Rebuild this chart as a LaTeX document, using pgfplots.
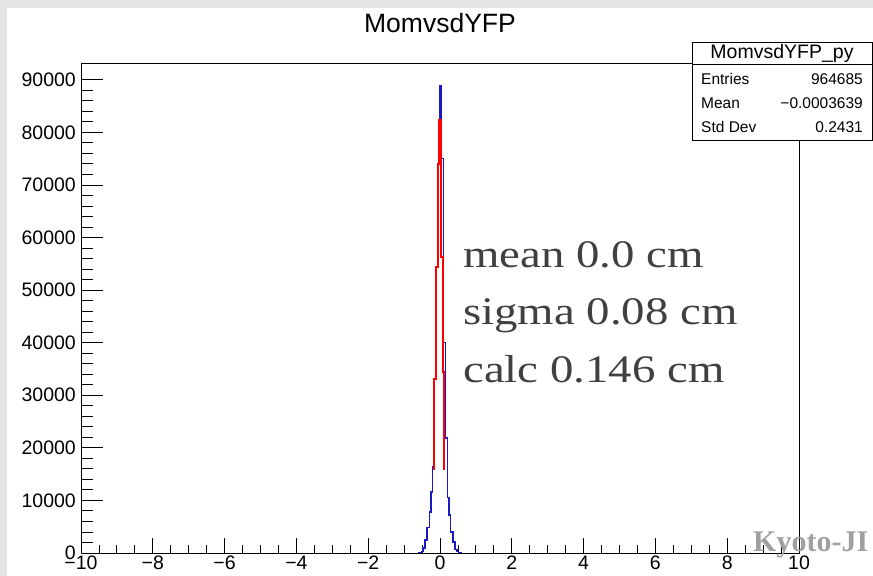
\documentclass[border=0pt]{standalone}
\usepackage{fontspec}
\setmainfont{Liberation Sans}
\newfontfamily\serifft{Liberation Serif}
\usepackage{pgfplots}
\pgfplotsset{compat=1.18}
\definecolor{rootblue}{RGB}{25,25,200}
\definecolor{bggray}{RGB}{229,229,229}
\definecolor{txtgray}{RGB}{64,64,64}
\definecolor{wmgray}{RGB}{160,160,160}
\begin{document}
\begin{tikzpicture}[x=1bp,y=1bp]
\path[use as bounding box] (0,0) rectangle (873,576);
\fill[bggray] (0,0) rectangle (873,576);
\fill[white] (7,-1) rectangle (874,568);
\pgfplotsset{rootaxis/.style={
  at={(81bp,23bp)}, anchor=south west,
  scale only axis, width=718bp, height=490bp,
  xmin=-10, xmax=10, ymin=0, ymax=93200,
  axis line style={black, line width=0.9bp},
  tick align=inside, xtick pos=left, ytick pos=left,
  tick style={black, line width=0.9bp},
  ticklabel style={font=\fontsize{19.5bp}{22bp}\selectfont},
  scaled ticks=false,
}}
% x ticks axis
\begin{axis}[rootaxis,
  major tick length=15bp, minor tick length=8bp,
  xtick={-10,-8,...,10},
  xticklabels={−10,−8,−6,−4,−2,0,2,4,6,8,10},
  minor x tick num=3,
  ytick=\empty,
  xticklabel style={inner sep=1bp, yshift=-2bp},
]
\end{axis}
% y ticks axis with data
\begin{axis}[rootaxis,
  major tick length=22bp, minor tick length=12bp,
  xtick=\empty,
  ytick={0,10000,...,90000},
  yticklabels={0,10000,20000,30000,40000,50000,60000,70000,80000,90000},
  minor y tick num=4,
  yticklabel style={inner sep=1bp, xshift=-4bp},
]
\addplot[rootblue, line width=1.3bp, const plot] coordinates {
(-0.62,0) (-0.57,100) (-0.52,300) (-0.47,950) (-0.42,2500) (-0.36,4800)
(-0.30,7800) (-0.25,11600) (-0.20,16500) (-0.15,33000) (-0.10,54400)
(-0.05,74000) (0.00,88850) (0.05,75000) (0.10,40000) (0.15,21900)
(0.20,10600) (0.25,7200) (0.30,4000) (0.36,2100) (0.42,600)
(0.47,300) (0.52,100) (0.57,0) (0.62,0)
};
\addplot[red, line width=2bp, sharp plot] coordinates {
(-0.17,15800) (-0.17,33100) (-0.11,33100) (-0.11,54400) (-0.064,54400)
(-0.064,74000) (-0.036,74000) (-0.036,82400) (0.036,82400) (0.036,56300)
(0.084,56300) (0.084,34400) (0.125,34400) (0.125,15800)
};
\end{axis}
% title
\node[font=\fontsize{26.5bp}{30bp}\selectfont] at (440,553) {MomvsdYFP};
% stats box
\filldraw[fill=white, draw=black, line width=0.9bp] (692,436) rectangle (872,534);
\draw[black, line width=0.9bp] (692,512) -- (872,512);
\node[font=\fontsize{19.5bp}{22bp}\selectfont] at (782,523) {MomvsdYFP\_py};
\begin{scope}[every node/.style={font=\fontsize{15.5bp}{18bp}\selectfont, inner sep=0pt}]
\node[anchor=west] at (701,497) {Entries};
\node[anchor=east] at (863,497) {964685};
\node[anchor=west] at (701,473) {Mean};
\node[anchor=east] at (863,473) {−0.0003639};
\node[anchor=west] at (701,449) {Std Dev};
\node[anchor=east] at (863,449) {0.2431};
\end{scope}
% overlay text
\begin{scope}[every node/.style={font=\serifft\fontsize{39bp}{44bp}\selectfont, text=txtgray, inner sep=0pt, anchor=base west, xscale=1.2}]
\node at (463,308) {mean 0.0 cm};
\node at (463,251) {sigma 0.08 cm};
\node at (463,193) {calc 0.146 cm};
\end{scope}
\node[font=\serifft\bfseries\fontsize{30bp}{34bp}\selectfont, text=wmgray, inner sep=0pt, anchor=base west] at (753,24) {Kyoto-JI};
\end{tikzpicture}
\end{document}
